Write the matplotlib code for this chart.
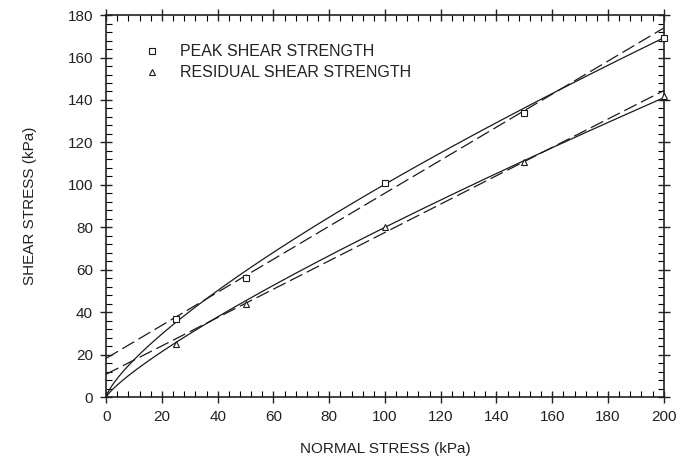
import numpy as np
import matplotlib
matplotlib.use("Agg")
import matplotlib.pyplot as plt
from matplotlib.ticker import MultipleLocator

plt.rcParams['font.family'] = ['Liberation Sans', 'DejaVu Sans']

normal_stress = [25, 50, 100, 150, 200]
peak_strength = [37, 56, 101, 134, 169]
residual_strength = [25, 44, 80, 111, 142]

# power-law curve (solid) parameters: tau = a * sigma^b
peak_power = (3.10, 0.755)
residual_power = (1.85, 0.818)
# linear envelope (dashed) parameters: tau = c + tan(phi) * sigma
peak_linear = (18.3, 0.778)
residual_linear = (10.8, 0.668)

x_ticks = list(range(0, 201, 20))
y_ticks = list(range(0, 181, 20))

fig = plt.figure(figsize=(6.85, 4.57), dpi=100)
ax = fig.add_axes([0.155, 0.131, 0.814, 0.836])

xs = np.linspace(0, 200, 400)
for (a, b) in (peak_power, residual_power):
    ax.plot(xs, a * xs ** b, color='#1a1a1a', lw=0.9)
for (c, m) in (peak_linear, residual_linear):
    ax.plot(xs, c + m * xs, color='#1a1a1a', lw=0.9, dashes=(11, 4))

ax.plot(normal_stress, peak_strength, ls='none', marker='s', ms=4.5,
        mfc='white', mec='#1a1a1a', mew=0.8, zorder=5, clip_on=False)
ax.plot(normal_stress, residual_strength, ls='none', marker='^', ms=5,
        mfc='white', mec='#1a1a1a', mew=0.8, zorder=5, clip_on=False)

# legend
ax.plot([16.5], [163], ls='none', marker='s', ms=4, mfc='white', mec='#1a1a1a', mew=0.8)
ax.plot([16.5], [153], ls='none', marker='^', ms=4.5, mfc='white', mec='#1a1a1a', mew=0.8)
ax.text(26.5, 163, 'PEAK SHEAR STRENGTH', fontsize=11.5, va='center', color='#222222')
ax.text(26.5, 153, 'RESIDUAL SHEAR STRENGTH', fontsize=11.5, va='center', color='#222222')

ax.set_xlim(0, 200)
ax.set_ylim(0, 180)
ax.set_xticks(x_ticks)
ax.set_yticks(y_ticks)
ax.xaxis.set_minor_locator(MultipleLocator(4))
ax.yaxis.set_minor_locator(MultipleLocator(4))
ax.tick_params(which='major', direction='inout', length=9, width=1.0,
               top=True, right=True, labelsize=11, colors='#222222', pad=5)
ax.tick_params(which='minor', direction='in', length=4, width=0.8, top=True, right=True)
for s in ax.spines.values():
    s.set_linewidth(1.2)
    s.set_color('#222222')

ax.set_xlabel('NORMAL STRESS (kPa)', fontsize=11, labelpad=13, color='#222222')
ax.set_ylabel('SHEAR STRESS (kPa)', fontsize=11, labelpad=22, color='#222222')

fig.savefig('out.png', dpi=100)
